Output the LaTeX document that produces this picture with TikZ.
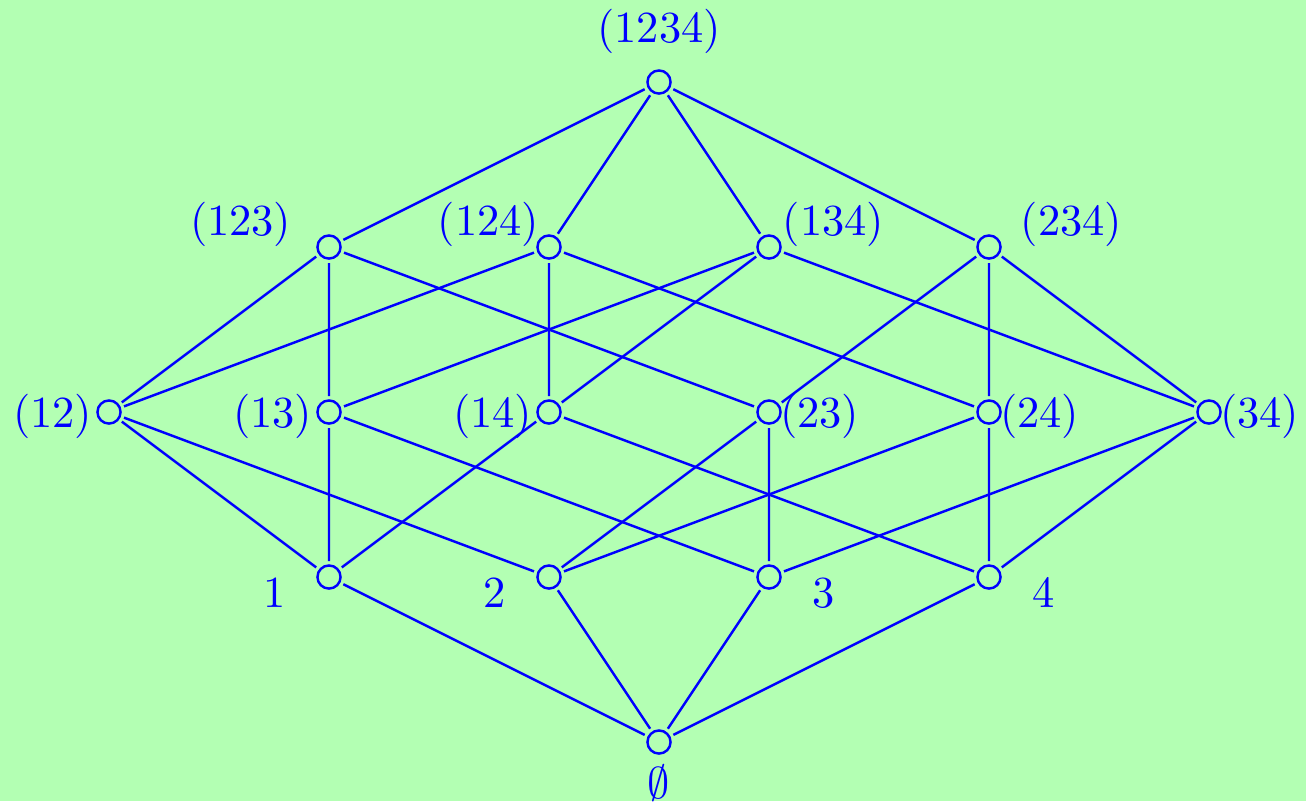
\documentclass[tikz,border=0pt]{standalone}
\usepackage{xcolor}
\definecolor{bggreen}{RGB}{179,255,179}
\usetikzlibrary{positioning,calc}
\tikzset{
  setnode/.style={draw=blue, circle, line width=0.55pt, minimum size=5.2pt,
                  inner sep=0pt, outer sep=1pt},
  setlbl/.style={text=blue, inner sep=0pt},
  hasse/.style={draw=blue, line width=0.55pt},
}
\begin{document}
\begin{tikzpicture}[x=0.87cm, y=1.305cm]

% background
\fill[bggreen] (-5.991,-2.358) rectangle (5.882,2.497);
\useasboundingbox (-5.991,-2.358) rectangle (5.882,2.497);

% whole set
\node[setnode] (s1234) at (0,2) {};

% three elements
\node[setnode] (s123) at (-3,1) {};
\node[setnode] (s124) at (-1,1) {};
\node[setnode] (s134) at (1,1) {};
\node[setnode] (s234) at (3,1) {};

% two elements
\node[setnode] (s12) at (-5,0) {};
\node[setnode] (s13) at (-3,0) {};
\node[setnode] (s14) at (-1,0) {};
\node[setnode] (s23) at (1,0) {};
\node[setnode] (s24) at (3,0) {};
\node[setnode] (s34) at (5,0) {};

% one element
\node[setnode] (s1) at (-3,-1) {};
\node[setnode] (s2) at (-1,-1) {};
\node[setnode] (s3) at (1,-1) {};
\node[setnode] (s4) at (3,-1) {};

% empty set
\node[setnode] (s0) at (0,-2) {};

% labels
\node[setlbl, anchor=south] (t1234) at ([yshift=6.1pt]s1234.center) {(1234)};
\node[setlbl, anchor=south east] (t123) at ([xshift=-8.3pt]s123.center) {(123)};
\node[setlbl, anchor=south east] (t124) at ([xshift=-2pt]s124.center) {(124)};
\node[setlbl, anchor=south west] (t134) at ([xshift=2.9pt]s134.center) {(134)};
\node[setlbl, anchor=south west] (t234) at ([xshift=7pt]s234.center) {(234)};
\node[setlbl, anchor=east] (t12) at ([shift={(-3.6pt,-1pt)}]s12.center) {(12)};
\node[setlbl, anchor=east] (t13) at ([shift={(-3.6pt,-1pt)}]s13.center) {(13)};
\node[setlbl, anchor=east] (t14) at ([shift={(-3.6pt,-1pt)}]s14.center) {(14)};
\node[setlbl, anchor=west] (t23) at ([shift={(2.3pt,-1pt)}]s23.center) {(23)};
\node[setlbl, anchor=west] (t24) at ([shift={(2.3pt,-1pt)}]s24.center) {(24)};
\node[setlbl, anchor=west] (t34) at ([shift={(2.3pt,-1pt)}]s34.center) {(34)};
\node[setlbl, anchor=north] (t1) at ([xshift=-12.3pt]s1.center) {1};
\node[setlbl, anchor=north] (t2) at ([xshift=-12.3pt]s2.center) {2};
\node[setlbl, anchor=north] (t3) at ([xshift=12.3pt]s3.center) {3};
\node[setlbl, anchor=north] (t4) at ([xshift=12.3pt]s4.center) {4};
\node[setlbl, anchor=north] (t0) at ([yshift=-5pt]s0.center) {$\emptyset$};

% top to three
\draw[hasse] (s1234) -- (s123) (s1234) -- (s124) (s1234) -- (s134) (s1234) -- (s234);

% three to two
\draw[hasse] (s123) -- (s12) (s123) -- (s13) (s123) -- (s23);
\draw[hasse] (s124) -- (s12) (s124) -- (s14) (s124) -- (s24);
\draw[hasse] (s134) -- (s13) (s134) -- (s14) (s134) -- (s34);
\draw[hasse] (s234) -- (s23) (s234) -- (s24) (s234) -- (s34);

% two to one
\draw[hasse] (s1) -- (s12) (s1) -- (s13) (s1) -- (s14);
\draw[hasse] (s2) -- (s12) (s2) -- (s23) (s2) -- (s24);
\draw[hasse] (s3) -- (s13) (s3) -- (s23) (s3) -- (s34);
\draw[hasse] (s4) -- (s14) (s4) -- (s24) (s4) -- (s34);

% one to empty set
\draw[hasse] (s0) -- (s1) (s0) -- (s2) (s0) -- (s3) (s0) -- (s4);

\end{tikzpicture}
\end{document}
